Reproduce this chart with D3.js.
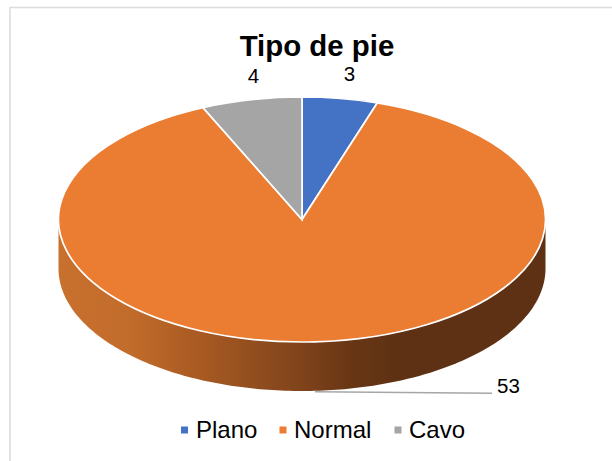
<!DOCTYPE html>
<html><head><meta charset="utf-8">
<script src="https://cdn.jsdelivr.net/npm/d3@7"></script>
<style>html,body{margin:0;padding:0;background:#fff}svg{display:block}text{font-family:"Liberation Sans",Arial,sans-serif;fill:#000}</style>
</head><body><div id="c"></div>
<script>
const categories=["Plano","Normal","Cavo"];
const values=[3,53,4];
const colors=["#4472C4","#EB7D32","#A5A5A5"];
const W=612,H=461,cx=302,cy=219.5,rx=243.5,ry=122.5,depth=49;
const svg=d3.select("#c").append("svg").attr("width",W).attr("height",H);
// frame
svg.append("path").attr("d",`M10,${H}V7.5H${W}`).attr("fill","none").attr("stroke","#dcdcdc").attr("stroke-width",1.5);
const defs=svg.append("defs");
const grad=defs.append("linearGradient").attr("id","side").attr("gradientUnits","userSpaceOnUse")
 .attr("x1",cx-rx).attr("x2",cx+rx).attr("y1",0).attr("y2",0);
[[0,"#C8702E"],[0.147,"#C26C2B"],[0.29,"#A85A22"],[0.5,"#7F431B"],[0.6,"#683614"],[0.7,"#5E3114"],[1,"#5E3114"]].forEach(([o,c])=>grad.append("stop").attr("offset",o).attr("stop-color",c));
// side wall
const ts=d3.range(0,180.5,1).map(d=>d*Math.PI/180);
const xS=d3.scaleLinear().domain([-1,1]).range([cx-rx,cx+rx]);
const yS=d3.scaleLinear().domain([-1,1]).range([cy-ry,cy+ry]);
svg.append("path").attr("fill","url(#side)")
 .attr("d",d3.area().x(t=>xS(Math.cos(t))).y0(t=>yS(Math.sin(t))).y1(t=>yS(Math.sin(t))+depth)(ts));
// top
const pie=d3.pie().sort(null).value(d=>d);
const arc=d3.arc().innerRadius(0).outerRadius(rx);
const g=svg.append("g").attr("transform",`translate(${cx},${cy}) scale(1,${ry/rx})`);
g.selectAll("path").data(pie(values)).join("path").attr("d",arc).attr("fill",(d,i)=>colors[i])
 .attr("stroke","#fff").attr("stroke-width",1.7).attr("vector-effect","non-scaling-stroke");
// title
svg.append("text").attr("x",317).attr("y",56).attr("text-anchor","middle").attr("font-size",29.4).attr("font-weight","bold").text("Tipo de pie");
// data labels
const labelPos=[[349.5,81],[508.5,393],[253.5,83]];
svg.selectAll("text.v").data(values).join("text").attr("class","v").attr("x",(d,i)=>labelPos[i][0]).attr("y",(d,i)=>labelPos[i][1])
 .attr("text-anchor","middle").attr("font-size",20.5).text(d=>d);
// leader
svg.append("path").attr("d","M315,391.7L492,393.3").attr("fill","none").attr("stroke","#a6a6a6").attr("stroke-width",1.5);
// legend
const lg=svg.selectAll("g.l").data(categories).join("g").attr("class","l");
lg.append("rect").attr("x",(d,i)=>[181,279.5,394.5][i]).attr("y",426.5).attr("width",7).attr("height",7).attr("fill",(d,i)=>colors[i]);
lg.append("text").attr("x",(d,i)=>[196,294,409][i]).attr("y",438).attr("font-size",24).text(d=>d);
</script></body></html>
